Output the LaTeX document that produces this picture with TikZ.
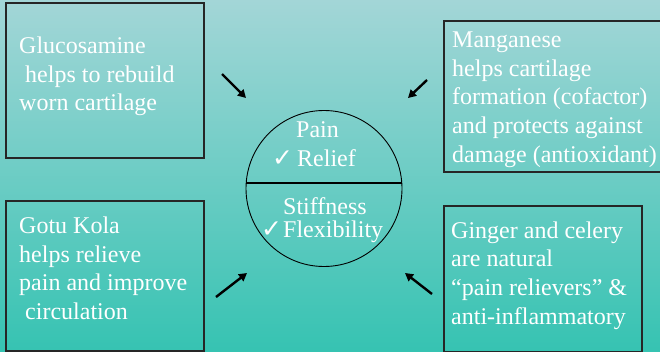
\documentclass[tikz,border=0pt]{standalone}
\usepackage{fontspec}
\setmainfont{Liberation Serif}
\newfontfamily\symfont{DejaVu Sans}
\usetikzlibrary{arrows.meta}
\definecolor{bgtop}{HTML}{A3D6D7}
\definecolor{bgbot}{HTML}{36C3B2}
\newcommand{\chk}{\makebox[25pt][l]{\symfont\fontsize{25}{25}\selectfont ✓}}
\newcommand{\chkb}{\makebox[22pt][l]{\symfont\fontsize{25}{25}\selectfont ✓}}
\begin{document}
\begin{tikzpicture}[x=1pt,y=-1pt,
  infobox/.style={draw=black!85,line width=1.2pt},
  txt/.style={text=white,anchor=base west,inner sep=0pt,font=\fontsize{24}{28}\selectfont},
  arr/.style={line width=2.4pt,-{Triangle[length=8pt,width=8.5pt]}}]
\useasboundingbox (0,0) rectangle (660,351);
\shade[top color=bgtop,bottom color=bgbot] (0,0) rectangle (660,351);
% boxes
\draw[infobox] (6,3) rectangle (204,158);
\draw[infobox] (444,21) rectangle (662,172);
\draw[infobox] (6,201) rectangle (204,351);
\draw[infobox] (444,206) rectangle (642,352);
% box texts
\node[txt] (g1) at (19,53) {Glucosamine};
\node[txt] (g2) at (19,82) {\ helps to rebuild};
\node[txt] (g3) at (19,110) {worn cartilage};
\node[txt] (m1) at (452,47) {Manganese};
\node[txt] (m2) at (452,76) {helps cartilage};
\node[txt] (m3) at (452,104) {formation (cofactor)};
\node[txt] (m4) at (452,133) {and protects against};
\node[txt] (m5) at (452,162) {damage (antioxidant)};
\node[txt] (k1) at (19,233) {Gotu Kola};
\node[txt] (k2) at (19,262) {helps relieve};
\node[txt] (k3) at (19,290) {pain and improve};
\node[txt] (k4) at (19,319) {\ circulation};
\node[txt] (c1) at (451,238) {Ginger and celery};
\node[txt] (c2) at (451,266) {are natural};
\node[txt] (c3) at (451,295) {“pain relievers” \&};
\node[txt] (c4) at (451,324) {anti-inflammatory};
% circle
\node[draw=black,line width=0.9pt,circle,minimum size=156pt,inner sep=0pt] (circ) at (324,188.5) {};
\coordinate (cl) at (246.2,183);
\coordinate (cr) at (401.8,183);
\draw[line width=1.6pt] (cl) -- (cr);
\node[txt] (p1) at (296,137) {Pain};
\node[txt] (p2) at (272,166) {\chk Relief};
\node[txt] (s1) at (283,214) {Stiffness};
\node[txt] (s2) at (261,237) {\chkb Flexibility};
% arrows
\coordinate (a1s) at (222,74); \coordinate (a1e) at (246,98);
\coordinate (a2s) at (427,80); \coordinate (a2e) at (408,98);
\coordinate (a3s) at (216,297); \coordinate (a3e) at (247,273);
\coordinate (a4s) at (432,294); \coordinate (a4e) at (405,273);
\draw[arr] (a1s) -- (a1e);
\draw[arr] (a2s) -- (a2e);
\draw[arr] (a3s) -- (a3e);
\draw[arr] (a4s) -- (a4e);
\end{tikzpicture}
\end{document}
